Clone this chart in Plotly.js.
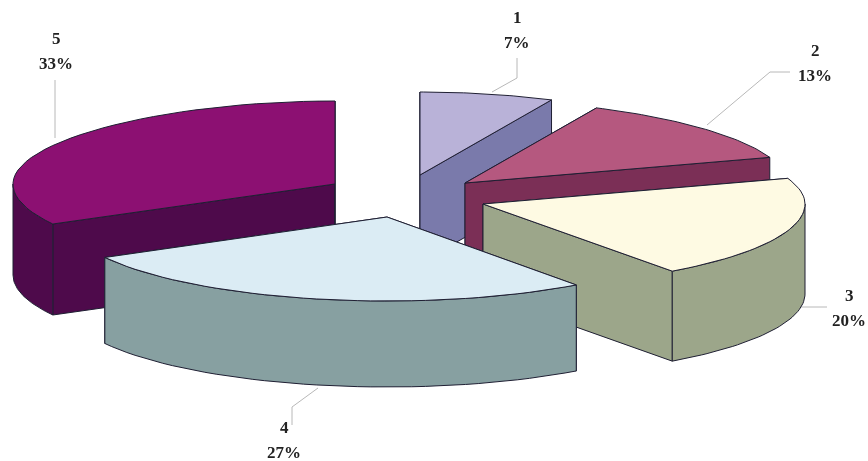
<!DOCTYPE html>
<html><head><meta charset="utf-8">
<script src="https://cdn.plot.ly/plotly-3.0.1.min.js"></script>
<style>html,body{margin:0;padding:0;background:#fff;overflow:hidden}#plot{width:868px;height:461px;filter:blur(0.6px)}</style>
</head><body><div id="plot"></div>
<script>
// data
const categories = ['1','2','3','4','5'];
const percents = [7,13,20,27,33];
// style
const topColors = ['#B9B2D8','#B5587F','#FEFAE3','#DBECF4','#8C1072'];
const sideColors = ['#7A7AAB','#7B2F56','#9CA68A','#87A0A1','#4E0A4B'];
// layout of the exploded pie, in pixels of the hidden axes
const apexX = [420,465,483,387,335];
const apexY = [175,183,204,217,184];
const radiusXMax = 322, radiusXBack = 16;
const radiusY = [83,83,83,84,83];
const depths = [88,88,90,86,91];
const drawOrder = [0,1,4,2,3];
const labelX = [517,815,849,284,56];
const labelY = [17,50,295,427,38];
const labelGap = 25;
const leaderX = [[517,517,492],[790,770,707],[827,800],[292,292,318],[55,55]];
const leaderY = [[58,78,92],[72,72,125],[307,307],[425,407,388],[80,138]];

const traces = [];
function addPoly(xs, ys, fill){
  traces.push({type:'scatter',mode:'lines',x:xs.concat(xs[0]),y:ys.concat(ys[0]),fill:'toself',
    fillcolor:fill,line:{color:'#1f1f33',width:1},hoverinfo:'skip',showlegend:false});
}
categories.forEach((c,i)=>{
  traces.push({type:'scatter',mode:'lines',x:leaderX[i],y:leaderY[i],line:{color:'#b8b8b8',width:1},hoverinfo:'skip',showlegend:false});
});
const total = percents.reduce((a,b)=>a+b,0);
const starts = []; let acc = 0;
percents.forEach(p=>{starts.push(acc/total*2*Math.PI); acc+=p;});
drawOrder.forEach(i=>{
  const a0 = starts[i], a1 = a0 + percents[i]/total*2*Math.PI;
  const cx = apexX[i], cy = apexY[i], depth = depths[i];
  const rx = t => { const c = Math.max(0,Math.cos(t)); return radiusXMax - radiusXBack*c*c; };
  const px = t => cx + rx(t)*Math.sin(t);
  const py = t => cy - radiusY[i]*Math.cos(t);
  const n = 40, ax=[], ay=[];
  for(let k=0;k<=n;k++){const t=a0+(a1-a0)*k/n; ax.push(px(t)); ay.push(py(t));}
  // radial faces first, then the viewer-facing wall, then the top
  [a0,a1].forEach(t=>{
    addPoly([cx,px(t),px(t),cx],[cy,py(t),py(t)+depth,cy+depth],sideColors[i]);
  });
  const w0 = Math.max(a0,Math.PI/2), w1 = Math.min(a1,3*Math.PI/2);
  if(w1>w0){
    const tx=[],ty=[];
    for(let k=0;k<=n;k++){const t=w0+(w1-w0)*k/n; tx.push(px(t)); ty.push(py(t));}
    addPoly(tx.concat(tx.slice().reverse()), ty.concat(ty.slice().reverse().map(v=>v+depth)), sideColors[i]);
  }
  addPoly([cx].concat(ax),[cy].concat(ay),topColors[i]);
});
const annotations = [];
categories.forEach((c,i)=>{
  const base={xref:'x',yref:'y',showarrow:false,xanchor:'center',yanchor:'middle',x:labelX[i],
    font:{family:'"Liberation Serif",serif',size:17,color:'#222'}};
  annotations.push(Object.assign({},base,{y:labelY[i],text:'<b>'+c+'</b>'}));
  annotations.push(Object.assign({},base,{y:labelY[i]+labelGap,text:'<b>'+percents[i]+'%</b>'}));
});
Plotly.newPlot('plot',traces,{
  width:868,height:461,margin:{l:0,r:0,t:0,b:0},paper_bgcolor:'#fff',plot_bgcolor:'#fff',showlegend:false,
  xaxis:{range:[0,868],visible:false,fixedrange:true},
  yaxis:{range:[461,0],visible:false,fixedrange:true},
  annotations:annotations
},{staticPlot:true,displayModeBar:false});
</script></body></html>
